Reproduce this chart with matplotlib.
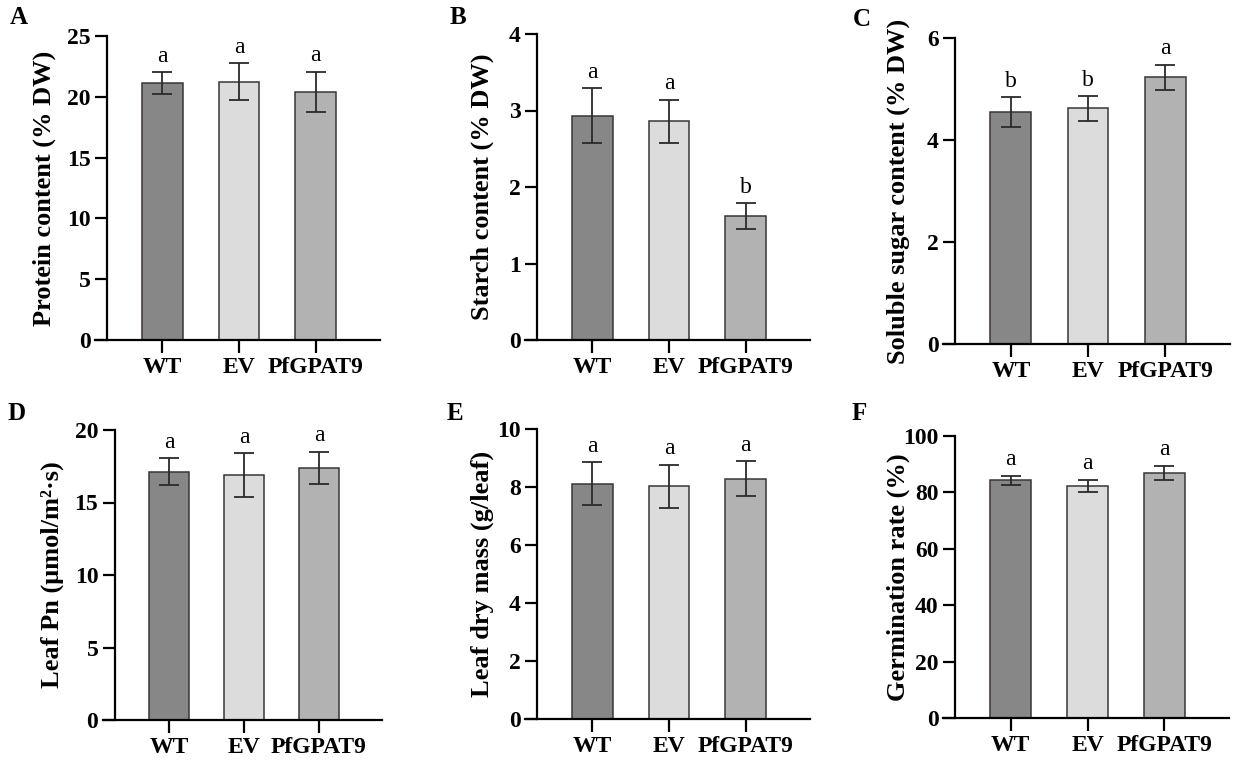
import numpy as np
import matplotlib
matplotlib.use("Agg")
import matplotlib.pyplot as plt
from matplotlib.ticker import MultipleLocator

plt.rcParams["font.family"] = ["Liberation Serif", "DejaVu Serif"]

groups = ["WT", "EV", "PfGPAT9"]
bar_colors = ["#878787", "#dcdcdc", "#b2b2b2"]

# means / error (SD)
protein = [21.1, 21.25, 20.4]
protein_err = [0.9, 1.5, 1.65]
protein_sig = ["a", "a", "a"]

starch = [2.93, 2.86, 1.62]
starch_err = [0.36, 0.28, 0.17]
starch_sig = ["a", "a", "b"]

sugar = [4.55, 4.62, 5.23]
sugar_err = [0.29, 0.24, 0.24]
sugar_sig = ["b", "b", "a"]

pn = [17.13, 16.9, 17.4]
pn_err = [0.93, 1.5, 1.1]
pn_sig = ["a", "a", "a"]

drymass = [8.12, 8.02, 8.29]
drymass_err = [0.73, 0.75, 0.59]
drymass_sig = ["a", "a", "a"]

germ = [84.3, 82.3, 86.9]
germ_err = [1.6, 2.1, 2.6]
germ_sig = ["a", "a", "a"]

W, H = 1238, 766
fig = plt.figure(figsize=(W / 100, H / 100), dpi=100)

# (letter, ylabel, values, errors, sig, ymax, ystep, rect px: left, right, top, bottom, ylabel x px)
panels = [
    ("A", "Protein content (% DW)", protein, protein_err, protein_sig, 25, 5,
     (95, 380, 36, 340), 44),
    ("B", "Starch content (% DW)", starch, starch_err, starch_sig, 4, 1,
     (525, 810, 34, 340), 482),
    ("C", "Soluble sugar content (% DW)", sugar, sugar_err, sugar_sig, 6, 2,
     (943, 1230, 38, 344), 898),
    ("D", "Leaf Pn (μmol/m²·s)", pn, pn_err, pn_sig, 20, 5,
     (103, 382, 430, 720), 52),
    ("E", "Leaf dry mass (g/leaf)", drymass, drymass_err, drymass_sig, 10, 2,
     (525, 810, 429, 719), 482),
    ("F", "Germination rate (%)", germ, germ_err, germ_sig, 100, 20,
     (943, 1229, 436, 718), 898),
]

letter_pos = {"A": (10, 18), "B": (450, 18), "C": (853, 19),
              "D": (8, 413), "E": (447, 413), "F": (852, 414)}

x = np.arange(len(groups))
for letter, ylab, vals, errs, sig, ymax, ystep, (l, r, t, b), ylx in panels:
    ax = fig.add_axes([l / W, 1 - b / H, (r - l) / W, (b - t) / H])
    ax.bar(x, vals, width=0.53, color=bar_colors, edgecolor="#3c3535",
           linewidth=1.1, zorder=2)
    ax.errorbar(x, vals, yerr=errs, fmt="none", ecolor="#2a2a2a",
                elinewidth=1.3, capsize=7, capthick=1.3, zorder=3)
    for xi, v, e, s in zip(x, vals, errs, sig):
        ax.annotate(s, (xi, v + e), xytext=(0, 4), textcoords="offset points",
                    ha="center", va="bottom", fontsize=17)
    ax.set_xlim(-0.88, 2.84)
    ax.set_ylim(0, ymax)
    ax.yaxis.set_major_locator(MultipleLocator(ystep))
    ax.set_xticks(x)
    ax.set_xticklabels(groups)
    for side in ("top", "right"):
        ax.spines[side].set_visible(False)
    ax.spines["left"].set_position(("data", -0.72))
    ax.spines["left"].set_linewidth(1.6)
    ax.spines["bottom"].set_linewidth(1.6)
    ax.tick_params(axis="both", direction="out", length=9, width=1.6,
                   labelsize=17, pad=3)
    for lab in ax.get_xticklabels() + ax.get_yticklabels():
        lab.set_fontweight("bold")
    ax.set_ylabel(ylab, fontsize=19, fontweight="bold", va="center")
    ax.yaxis.set_label_coords(ylx / W, 1 - (t + b) / 2 / H, transform=fig.transFigure)
    lx, ly = letter_pos[letter]
    fig.text(lx / W, 1 - ly / H, letter, fontsize=18, fontweight="bold",
             ha="left", va="center")

fig.savefig("out.png", dpi=100)
